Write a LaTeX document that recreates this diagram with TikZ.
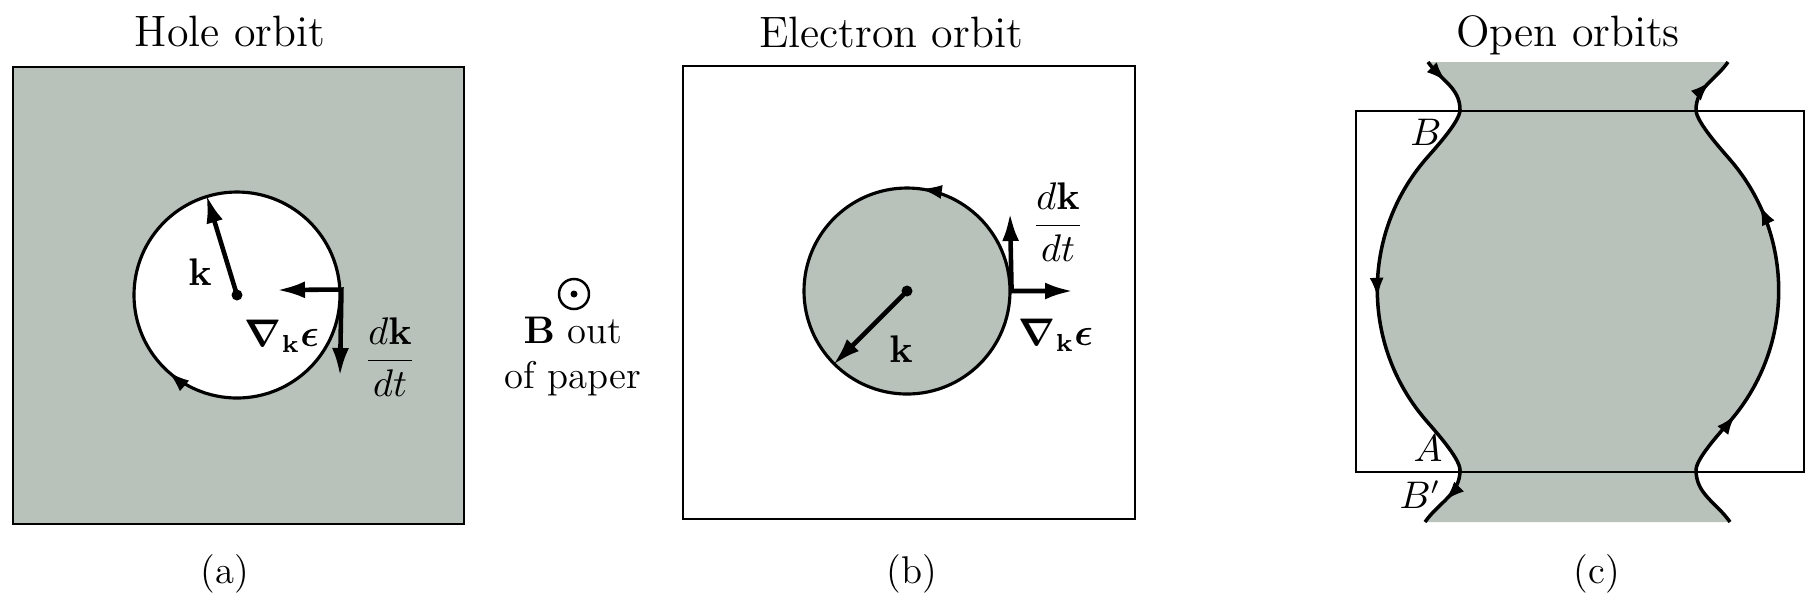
\documentclass[tikz,border=0pt]{standalone}
\usepackage{amsmath, amssymb}
\usepackage{tikz}
\usetikzlibrary{arrows.meta, decorations.markings}
\definecolor{fsgray}{RGB}{184,194,187}

\begin{document}
\begin{tikzpicture}[
  title/.style={anchor=base, font=\fontsize{12.5}{15}\selectfont},
  lbl/.style={font=\fontsize{10.5}{12.6}\selectfont},
  cell/.style={draw, line width=0.6pt, anchor=north west, inner sep=0pt},
  orbit/.style={draw, circle, line width=0.9pt, minimum size=2.06cm, inner sep=0pt},
  dot/.style={circle, fill, inner sep=0pt, minimum size=0.11cm},
  vec/.style={line width=1.3pt, -{Latex[length=2.8mm,width=1.7mm]}},
  vecpair/.style={line width=1.3pt, {Latex[length=2.8mm,width=1.7mm]}-{Latex[length=2.8mm,width=1.7mm]}},
  flow/.style={postaction={decorate, decoration={markings,
      mark=at position #1 with {\arrow{Latex[length=2mm,width=1.4mm]}}}}},
  flowback/.style={postaction={decorate, decoration={markings,
      mark=at position #1 with {\arrowreversed{Latex[length=2mm,width=1.4mm]}}}}},
  openline/.style={line width=1pt}
]
  \useasboundingbox (0,0) rectangle (18.10,-6.08);

  % (a) hole orbit
  \node[title] (holetitle) at (2.30,-0.46) {Hole orbit};
  \node[cell, fill=fsgray, minimum width=4.51cm, minimum height=4.57cm] (holebox) at (0.12,-0.66) {};
  \node[orbit, fill=white] (holecirc) at (2.37,-2.95) {};
  \path[flowback=0.636] (holecirc.center) circle[radius=1.03cm];
  \node[dot] (holeo) at (holecirc.center) {};
  \draw[vec] (holeo.center) -- (holecirc.107);
  \node[lbl] (holek) at (2.00,-2.72) {$\mathbf{k}$};
  \coordinate (holecorner) at (holecirc.3);
  \coordinate (holegrad) at (2.77,-2.90);
  \coordinate (holedk) at (3.40,-3.76);
  \draw[vecpair] (holegrad) -- (holecorner) -- (holedk);
  \node[lbl] (holegradlbl) at (2.82,-3.36) {$\boldsymbol{\nabla}_{\mathbf{k}}\boldsymbol{\epsilon}$};
  \node[lbl] (holedklbl) at (3.90,-3.57) {$\dfrac{d\mathbf{k}}{dt}$};
  \node[font=\fontsize{11}{13}\selectfont] (capa) at (2.25,-5.74) {(a)};

  % field direction
  \node[circle, draw, line width=0.7pt, minimum size=0.30cm, inner sep=0pt] (bdir) at (5.74,-2.94) {};
  \node[dot, minimum size=0.07cm] (bdot) at (bdir.center) {};
  \node[anchor=base, font=\fontsize{11}{13}\selectfont] (bout) at (5.73,-3.43) {$\mathbf{B}$ out};
  \node[anchor=base, font=\fontsize{11}{13}\selectfont] (bpaper) at (5.73,-3.88) {of paper};

  % (b) electron orbit
  \node[title] (electitle) at (8.91,-0.47) {Electron orbit};
  \node[cell, minimum width=4.52cm, minimum height=4.53cm] (elecbox) at (6.82,-0.65) {};
  \node[orbit, fill=fsgray] (eleccirc) at (9.07,-2.91) {};
  \path[flow=0.227] (eleccirc.center) circle[radius=1.03cm];
  \node[dot] (eleco) at (eleccirc.center) {};
  \draw[vec] (eleco.center) -- (eleccirc.225);
  \node[lbl] (eleck) at (9.01,-3.49) {$\mathbf{k}$};
  \coordinate (eleccorner) at (eleccirc.0);
  \coordinate (elecdk) at (10.10,-2.13);
  \coordinate (elecgrad) at (10.73,-2.91);
  \draw[vecpair] (elecdk) -- (eleccorner) -- (elecgrad);
  \node[lbl] (elecdklbl) at (10.58,-2.22) {$\dfrac{d\mathbf{k}}{dt}$};
  \node[lbl] (elecgradlbl) at (10.56,-3.35) {$\boldsymbol{\nabla}_{\mathbf{k}}\boldsymbol{\epsilon}$};
  \node[font=\fontsize{11}{13}\selectfont] (capb) at (9.12,-5.74) {(b)};

  % (c) open orbits
  \node[title] (opentitle) at (15.68,-0.46) {Open orbits};
  \coordinate (lt) at (14.28,-0.62);
  \coordinate (ln1) at (14.60,-1.10);
  \coordinate (lq1) at (14.25,-1.60);
  \coordinate (ln2) at (14.60,-4.70);
  \coordinate (lb) at (14.25,-5.22);
  \coordinate (rt) at (17.28,-0.62);
  \coordinate (rn1) at (16.96,-1.10);
  \coordinate (rq2) at (17.31,-4.20);
  \coordinate (rn2) at (16.96,-4.70);
  \coordinate (rb) at (17.30,-5.22);
  \fill[fsgray] (lt) to[out=-55,in=90] (ln1) to[out=-90,in=49.6,looseness=0.5] (lq1)
    arc[start angle=139.6, end angle=220.4, radius=2cm] to[out=-49.6,in=90,looseness=0.5] (ln2)
    to[out=-90,in=55] (lb) -- (rb) to[out=125,in=-90] (rn2) to[out=90,in=-130.4,looseness=0.5] (rq2)
    arc[start angle=-40.4, end angle=40.4, radius=2cm] to[out=130.4,in=-90,looseness=0.5] (rn1)
    to[out=90,in=-125] (rt) -- cycle;
  \draw[openline, flow=0.05, flow=0.51, flow=0.945] (lt) to[out=-55,in=90] (ln1)
    to[out=-90,in=49.6,looseness=0.5] (lq1)
    arc[start angle=139.6, end angle=220.4, radius=2cm] to[out=-49.6,in=90,looseness=0.5] (ln2)
    to[out=-90,in=55] (lb);
  \draw[openline, flow=0.25, flow=0.67, flow=0.95] (rb) to[out=125,in=-90] (rn2)
    to[out=90,in=-130.4,looseness=0.5] (rq2)
    arc[start angle=-40.4, end angle=40.4, radius=2cm] to[out=130.4,in=-90,looseness=0.5] (rn1)
    to[out=90,in=-125] (rt);
  \node[cell, minimum width=4.48cm, minimum height=3.61cm] (openbox) at (13.55,-1.10) {};
  \node[lbl] (labB) at (14.26,-1.32) {$B$};
  \node[lbl] (labA) at (14.28,-4.48) {$A$};
  \node[lbl] (labBp) at (14.20,-4.95) {$B'$};
  \node[font=\fontsize{11}{13}\selectfont] (capc) at (15.97,-5.74) {(c)};
\end{tikzpicture}
\end{document}
